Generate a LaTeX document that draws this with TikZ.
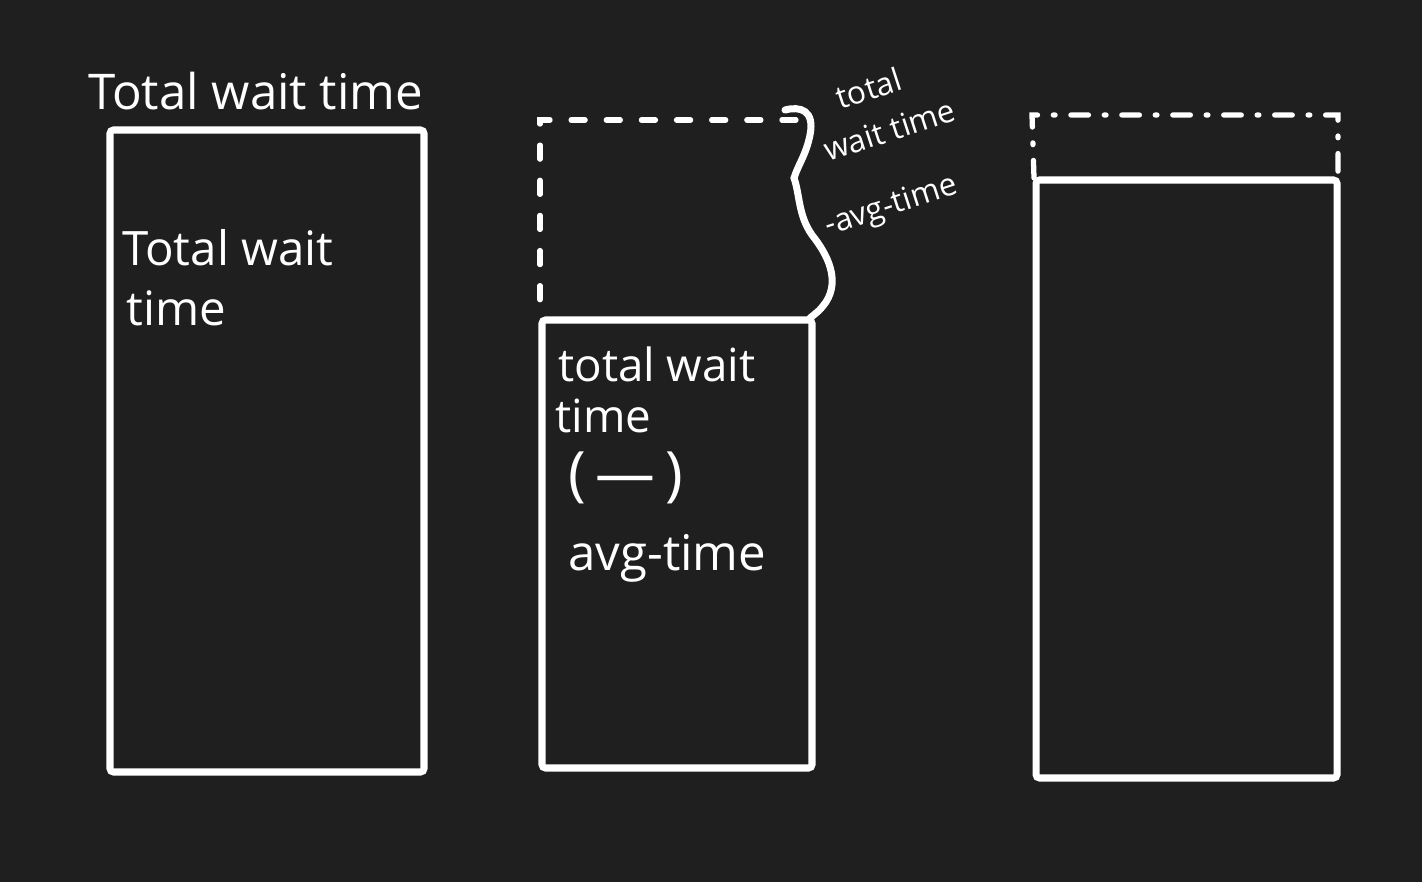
\documentclass[tikz,border=0pt]{standalone}
\usepackage{fontspec}
\setmainfont{Open Sans}
\definecolor{board}{RGB}{31,31,31}
\tikzset{chalk/.style={white,line width=4pt,rounded corners=2pt},
  ghost/.style={white,line width=3pt,line cap=round,dash pattern=on 8pt off 12pt},
  note/.style={white,inner sep=0pt,anchor=base west}}

\begin{document}
\begin{tikzpicture}[x=0.02cm,y=-0.02cm]
\fill[board] (0,0) rectangle (1422,882);
% whole bar
\draw[chalk] (110,130) rectangle (424,772);
\node[note,font=\fontsize{28}{30}\selectfont] (ttl) at (88,110) {Total wait time};
\node[note,font=\fontsize{27}{30}\selectfont] (full1) at (122,265) {Total wait};
\node[note,font=\fontsize{27}{30}\selectfont] (full2) at (126,325) {time};
% cut bar
\draw[chalk] (542,320) rectangle (812,768);
\draw[ghost] (796,120) -- (540,120) -- (540,318);
\draw[white,line width=4pt,line cap=round] (785,110) .. controls (800,106) and (815,110) .. (810,135)
  .. controls (806,155) and (798,165) .. (794,178) .. controls (800,195) and (798,215) .. (812,235)
  .. controls (828,255) and (840,280) .. (826,302) .. controls (820,310) .. (810,318);
\node[note,font=\fontsize{26}{30}\selectfont] (cut1) at (558,381) {total wait};
\node[note,font=\fontsize{26}{30}\selectfont] (cut2) at (555,432) {time};
\node[note,font=\fontsize{34}{38}\selectfont] (cut3) at (568,494) {(\,—\,)};
\node[note,font=\fontsize{28}{30}\selectfont] (cut4) at (568,570) {avg-time};
\node[note,rotate=18,font=\fontsize{18}{22}\selectfont] (side1) at (840,110) {total};
\node[note,rotate=18,font=\fontsize{18}{22}\selectfont] (side2) at (828,162) {wait time};
\node[note,rotate=18,font=\fontsize{18}{22}\selectfont] (side3) at (828,236) {-avg-time};
% third bar
\draw[chalk] (1036,180) rectangle (1337,778);
\draw[white,line width=3pt,line cap=round,dash pattern=on 10pt off 9pt on 1pt off 9pt]
  (1034,178) -- (1032,115) -- (1338,115) -- (1338,178);
\end{tikzpicture}
\end{document}
